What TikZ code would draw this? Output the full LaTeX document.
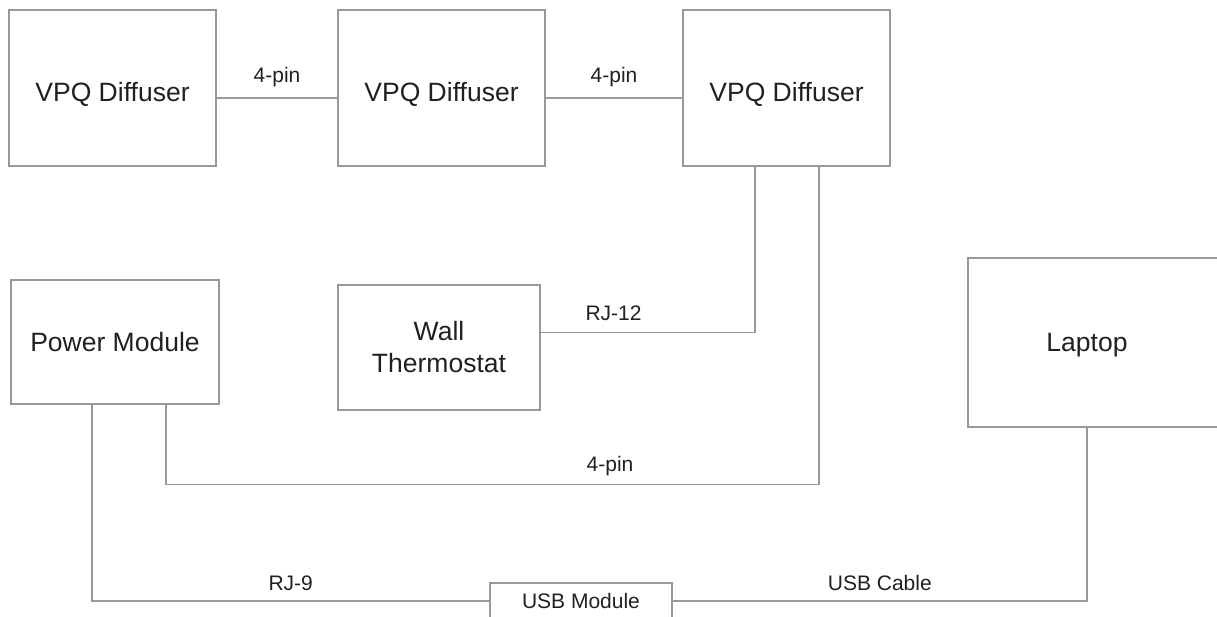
\documentclass[tikz,border=0pt]{standalone}
\usepackage{fontspec}
\setmainfont{Liberation Sans}
\usepackage{xcolor}
\definecolor{linegray}{HTML}{999999}
\definecolor{textdark}{HTML}{231F20}

\begin{document}
\begin{tikzpicture}[x=1pt,y=-1pt,every node/.style={text=textdark},
  boxfont/.style={font=\fontsize{26.5}{32}\selectfont},
  unit/.style={draw=linegray,line width=1.3pt,minimum width=207pt,minimum height=156pt,inner sep=0pt,align=center,boxfont},
  wire/.style={draw=linegray,line width=1.3pt},
  tag/.style={font=\fontsize{21}{25}\selectfont,inner sep=0pt,anchor=base,yshift=11pt}]
  \useasboundingbox (0,0) rectangle (1217,617);
  \clip (0,0) rectangle (1217,617);
  \node[unit,text height=27pt,text depth=0pt] (d1) at (112.5,88) {VPQ Diffuser};
  \node[unit,text height=27pt,text depth=0pt] (d2) at (441.5,88) {VPQ Diffuser};
  \node[unit,text height=27pt,text depth=0pt] (d3) at (786.5,88) {VPQ Diffuser};
  \node[unit,minimum width=208pt,minimum height=124pt] (pm) at (115,342) {Power Module};
  \node[unit,minimum width=202pt,minimum height=125pt] (th) at (439,347.5) {Wall\\Thermostat};
  \node[unit,minimum width=292pt,minimum height=169pt,label={[boxfont,xshift=-27pt,yshift=-3pt]center:Laptop}] (lap) at (1114,342.5) {};
  \node[unit,minimum width=182pt,minimum height=36pt,font=\fontsize{21}{25}\selectfont] (usb) at (581,601) {USB Module};
  \draw[wire] ([yshift=-10pt]d1.east) -- node[tag,yshift=4pt]{4-pin} ([yshift=-10pt]d2.west);
  \draw[wire] ([yshift=-10pt]d2.east) -- node[tag,yshift=4pt]{4-pin} ([yshift=-10pt]d3.west);
  \draw[wire] ([xshift=-31.5pt]d3.south) |- node[tag,pos=0.83,yshift=1pt]{RJ-12} ([yshift=15pt]th.east);
  \draw[wire] ([xshift=32.5pt]d3.south) -- ++(0,318) -| node[tag,pos=0.16,yshift=2pt]{4-pin} ([xshift=51pt]pm.south);
  \draw[wire] ([xshift=-23pt]pm.south) |- node[tag,pos=0.75]{RJ-9} (usb.west);
  \draw[wire] (usb.east) -| node[tag,pos=0.25]{USB Cable} ([xshift=-27pt]lap.south);
\end{tikzpicture}
\end{document}
